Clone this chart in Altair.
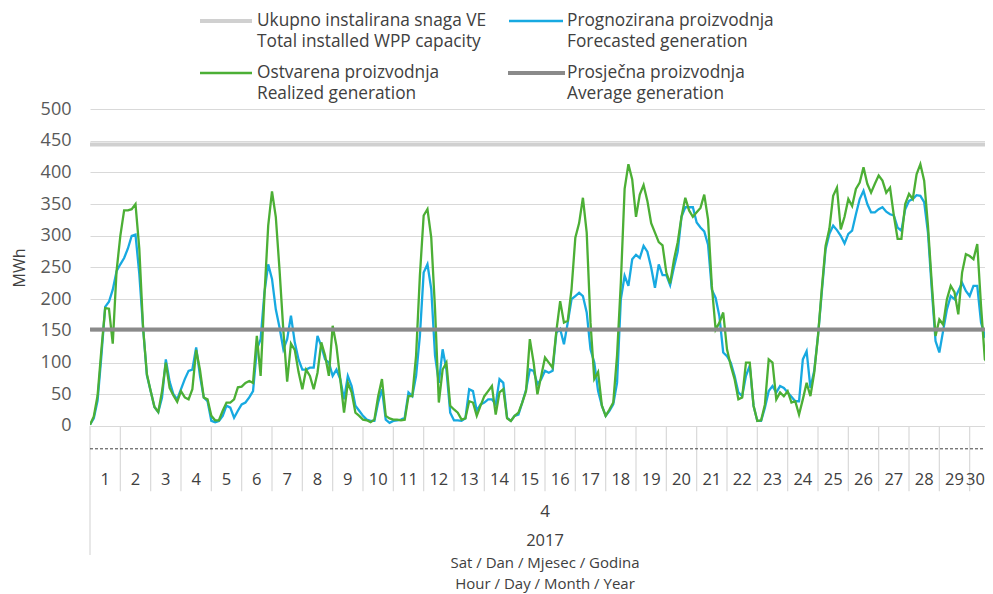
import altair as alt
import pandas as pd

# ---------------- data (3-hour steps, April 2017) ----------------
day_numbers = list(range(1, 31))
step_hours = 3

realized = [
    2, 15, 48, 120, 186, 185, 130, 244,        # 1
    300, 340, 340, 342, 350, 280, 155, 82,     # 2
    55, 30, 22, 55, 100, 60, 48, 38,           # 3
    55, 45, 42, 58, 120, 89, 45, 42,           # 4
    16, 9, 9, 24, 37, 37, 42, 61,              # 5
    62, 68, 71, 68, 142, 79, 205, 316,         # 6
    370, 330, 245, 150, 70, 130, 120, 85,      # 7
    58, 89, 79, 58, 84, 132, 111, 79,          # 8
    158, 126, 74, 21, 68, 53, 21, 16,          # 9
    10, 9, 6, 10, 47, 74, 16, 12,              # 10
    10, 10, 9, 10, 47, 47, 111, 237,           # 11
    332, 342, 297, 184, 37, 89, 100, 32,       # 12
    26, 21, 10, 12, 39, 37, 16, 32,            # 13
    47, 55, 63, 18, 53, 58, 12, 8,             # 14
    16, 21, 37, 55, 137, 100, 50, 79,          # 15
    108, 100, 92, 150, 197, 163, 166, 216,     # 16
    297, 320, 360, 305, 163, 74, 85, 32,       # 17
    16, 26, 37, 111, 226, 374, 413, 389,       # 18
    330, 365, 380, 355, 320, 305, 290, 285,    # 19
    242, 225, 262, 290, 330, 360, 340, 330,    # 20
    337, 344, 365, 326, 221, 152, 163, 179,    # 21
    121, 95, 74, 42, 45, 100, 100, 32,         # 22
    8, 9, 34, 105, 100, 42, 53, 47,            # 23
    55, 37, 39, 18, 42, 68, 47, 84,            # 24
    142, 216, 284, 311, 363, 376, 310, 330,    # 25
    358, 347, 374, 384, 408, 382, 368, 382,    # 26
    395, 387, 368, 376, 332, 295, 295, 350,    # 27
    366, 358, 397, 413, 387, 316, 226, 142,    # 28
    168, 160, 200, 221, 211, 176, 242, 271,    # 29
    268, 263, 287, 189, 105, 97, 158, 170,     # 30
]

forecast = [
    2, 12, 40, 110, 188, 196, 215, 244,        # 1
    255, 265, 280, 300, 302, 240, 155, 80,     # 2
    55, 30, 22, 45, 105, 70, 50, 42,           # 3
    58, 74, 87, 89, 124, 79, 45, 39,           # 4
    8, 6, 8, 16, 32, 29, 13, 24,               # 5
    34, 37, 45, 55, 121, 137, 210, 255,        # 6
    232, 184, 155, 121, 137, 174, 132, 105,    # 7
    89, 89, 92, 92, 142, 126, 105, 100,        # 8
    79, 89, 74, 42, 79, 63, 32, 24,            # 9
    16, 10, 8, 8, 37, 58, 10, 5,               # 10
    8, 9, 10, 13, 53, 47, 79, 142,             # 11
    242, 255, 216, 111, 68, 121, 89, 21,       # 12
    9, 9, 8, 12, 58, 55, 24, 34,               # 13
    37, 42, 42, 34, 74, 68, 13, 8,             # 14
    16, 18, 37, 57, 89, 87, 66, 74,            # 15
    87, 84, 87, 147, 153, 129, 163, 200,       # 16
    205, 210, 205, 179, 121, 100, 55, 32,      # 17
    16, 24, 34, 68, 200, 237, 221, 263,        # 18
    270, 265, 284, 275, 250, 218, 255, 238,    # 19
    238, 222, 250, 275, 330, 345, 345, 345,    # 20
    321, 313, 307, 286, 215, 202, 173, 116,    # 21
    110, 100, 79, 53, 47, 79, 95, 32,          # 22
    8, 8, 29, 55, 63, 53, 63, 60,              # 23
    53, 46, 39, 39, 105, 118, 60, 87,          # 24
    142, 211, 279, 303, 316, 309, 300, 288,    # 25
    303, 308, 334, 358, 371, 350, 337, 337,    # 26
    342, 345, 338, 334, 332, 313, 308, 342,    # 27
    355, 358, 364, 363, 353, 305, 216, 134,    # 28
    116, 150, 184, 205, 200, 213, 226, 213,    # 29
    205, 221, 221, 163, 142, 150, 142, 150,    # 30
]

installed_capacity = 444
average_generation = 152
y_ticks = [0, 50, 100, 150, 200, 250, 300, 350, 400, 450, 500]
month_label = "4"
year_label = "2017"
x_title_lines = ["Sat / Dan / Mjesec / Godina", "Hour / Day / Month / Year"]
legend_labels = [
    ("Ukupno instalirana snaga VE", "Total installed WPP capacity"),
    ("Prognozirana proizvodnja", "Forecasted generation"),
    ("Ostvarena proizvodnja", "Realized generation"),
    ("Prosječna proizvodnja", "Average generation"),
]

# ---------------- styling ----------------
FONT = "Open Sans"
TXT = "#404040"
BLUE = "#17a9e1"
GREEN = "#4caf35"
CAP_GRAY = "#d0d0d0"
AVG_GRAY = "#8a8a8a"
GRID = "#d9d9d9"

HOURS = 24 * len(day_numbers)
PX_PER_HOUR = 910 / HOURS          # the reference's day width (~30.3 px)
W = 895                            # visible plot width (window edge)
H = 446
X_END = W / PX_PER_HOUR            # right part of day 30 falls outside the window

xs = alt.Scale(domain=[0, X_END], nice=False, zero=False)
ys = alt.Scale(domain=[-203.5, 500], nice=False, zero=False)
yaxis = alt.Axis(values=y_ticks, grid=True, gridColor=GRID, gridWidth=1, domain=False,
                 ticks=False, labelFontSize=18, labelColor="#595959", labelFont=FONT,
                 labelPadding=19, title=None)


def X(f="hour"):
    return alt.X(f + ":Q", scale=xs, axis=None)


def Y(f="value"):
    return alt.Y(f + ":Q", scale=ys, axis=yaxis)


hours = [i * step_hours for i in range(len(realized))]
df_f = pd.DataFrame({"hour": hours, "value": forecast})
df_r = pd.DataFrame({"hour": hours, "value": realized})

grid_layer = alt.Chart(pd.DataFrame({"hour": [0], "value": [0]})).mark_point(opacity=0).encode(
    x=X(), y=Y())

line_f = alt.Chart(df_f).mark_line(color=BLUE, strokeWidth=2.3, clip=True).encode(x=X(), y=Y())
line_r = alt.Chart(df_r).mark_line(color=GREEN, strokeWidth=2.3, clip=True).encode(x=X(), y=Y())

hl = pd.DataFrame({"value": [installed_capacity, average_generation],
                   "kind": ["cap", "avg"]})
cap_rule = alt.Chart(hl[hl.kind == "cap"]).mark_rule(color=CAP_GRAY, strokeWidth=4).encode(
    y=Y(), x=alt.value(0), x2=alt.value(W))
avg_rule = alt.Chart(hl[hl.kind == "avg"]).mark_rule(color=AVG_GRAY, strokeWidth=4).encode(
    y=Y(), x=alt.value(0), x2=alt.value(W))

# category axis (Excel style, multi-level)
sep = pd.DataFrame({"hour": [24 * k for k in range(len(day_numbers))]})
sep["value"] = 0
sep["value2"] = -103
sep.loc[0, "value2"] = -203.5
sep_rules = alt.Chart(sep).mark_rule(color=GRID, strokeWidth=1.2).encode(
    x=X(), y=Y(), y2="value2:Q")

dash_line = alt.Chart(pd.DataFrame({"hour": [0], "hour2": [X_END], "value": [-36]})).mark_rule(
    color="#404040", strokeWidth=1, strokeDash=[3, 2]).encode(x=X(), x2="hour2:Q", y=Y())

# day labels at day centres; the last one is nudged so it stays inside the window
last_visible = X_END - 9.5 / PX_PER_HOUR
day_df = pd.DataFrame({"hour": [min(24 * (d - 1) + 12, last_visible) for d in day_numbers],
                       "value": -85, "label": [str(d) for d in day_numbers]})
day_text = alt.Chart(day_df).mark_text(fontSize=16.5, font=FONT, color=TXT, baseline="middle",
                                       align="center").encode(x=X(), y=Y(), text="label:N")

mid_hour = HOURS / 2
month_text = alt.Chart(pd.DataFrame({"hour": [mid_hour], "value": [-135],
                                     "label": [month_label]})).mark_text(
    fontSize=17, font=FONT, color=TXT, baseline="middle", align="center").encode(
    x=X(), y=Y(), text="label:N")
year_text = alt.Chart(pd.DataFrame({"hour": [mid_hour], "value": [-182],
                                    "label": [year_label]})).mark_text(
    fontSize=16.5, font=FONT, color=TXT, baseline="middle", align="center").encode(
    x=X(), y=Y(), text="label:N")
ttl_df = pd.DataFrame({"hour": [mid_hour] * 2, "value": [-216, -248.5], "label": x_title_lines})
ttl_text = alt.Chart(ttl_df).mark_text(fontSize=15, font=FONT, color=TXT, baseline="middle",
                                       align="center").encode(x=X(), y=Y(), text="label:N")

ytitle = alt.Chart(pd.DataFrame({"t": ["MWh"]})).mark_text(
    fontSize=16, font=FONT, color=TXT, angle=270, baseline="middle", align="center").encode(
    x=alt.value(-70), y=alt.value(159), text="t:N")

# legend (custom, two columns, two-line labels)
legend_layers = []
legend_specs = [
    (110, 162, -88, CAP_GRAY, 4, 167),
    (419, 473, -88, BLUE, 2.5, 477),
    (110, 162, -36, GREEN, 2.5, 167),
    (418, 475, -36, AVG_GRAY, 4, 477),
]
one = pd.DataFrame({"a": [0]})
for (x1, x2, yy, col, sw, tx), (l1, l2) in zip(legend_specs, legend_labels):
    legend_layers.append(alt.Chart(one).mark_rule(color=col, strokeWidth=sw).encode(
        x=alt.value(x1), x2=alt.value(x2), y=alt.value(yy)))
    legend_layers.append(alt.Chart(one).mark_text(
        fontSize=17.3, font=FONT, color=TXT, align="left", baseline="middle").encode(
        x=alt.value(tx), y=alt.value(yy), text=alt.value(l1)))
    legend_layers.append(alt.Chart(one).mark_text(
        fontSize=17.3, font=FONT, color=TXT, align="left", baseline="middle").encode(
        x=alt.value(tx), y=alt.value(yy + 21), text=alt.value(l2)))

chart = alt.layer(
    grid_layer, sep_rules, dash_line, cap_rule, line_f, line_r, avg_rule,
    day_text, month_text, year_text, ttl_text, ytitle, *legend_layers
).properties(
    width=W, height=H,
    autosize=alt.AutoSizeParams(type="none"),
    padding={"left": 82, "top": 101, "right": 0, "bottom": 40},
    background="white",
).configure_view(stroke=None)

chart.save("out.html", embed_options={"renderer": "svg", "actions": False})
